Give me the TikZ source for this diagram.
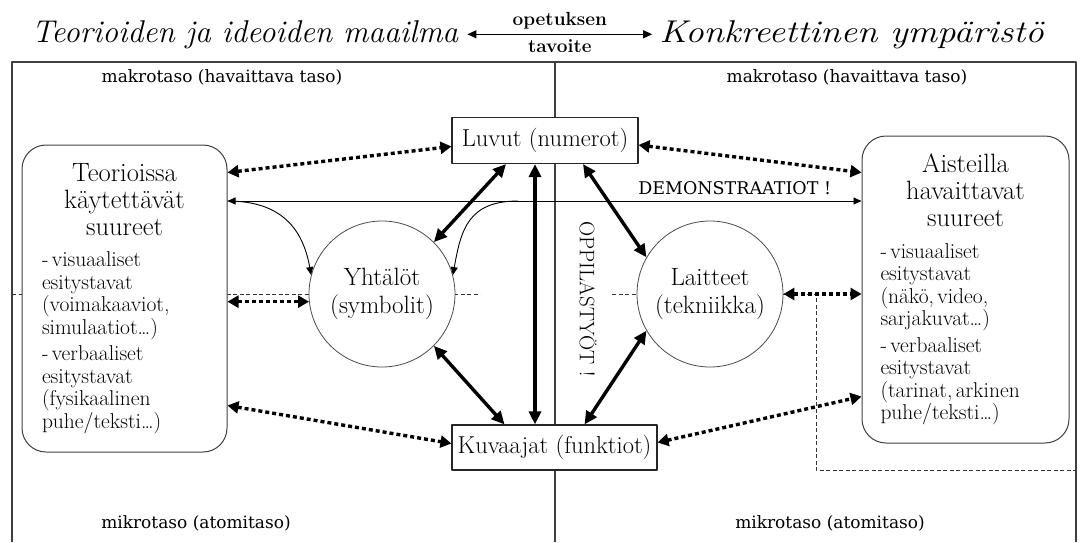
\documentclass[tikz,border=0pt]{standalone}
\usepackage{fontspec}
\usetikzlibrary{arrows.meta}
\newfontfamily\tasofont{DejaVu Serif}
\newcommand{\otsikkofont}{\fontsize{31.5}{34}\selectfont\itshape}
\newcommand{\tavoitefont}{\fontsize{19}{20}\selectfont\bfseries}
\newcommand{\solmufont}{\fontsize{24.5}{28}\selectfont}
\newcommand{\ympyrafont}{\fontsize{25}{28}\selectfont}
\newcommand{\laatikkootsikko}{\fontsize{26.5}{27}\selectfont}
\newcommand{\listafont}{\fontsize{21.5}{22.5}\selectfont}
\newcommand{\demofont}{\tasofont\fontsize{17.5}{20}\selectfont}
\newcommand{\oppilasfont}{\fontsize{21}{24}\selectfont}
\begin{document}
\begin{tikzpicture}[x=1pt,y=-1pt,line join=round,>={Triangle[length=8pt,width=7pt]}]
	\tikzset{kehys/.style={draw=black!75,line width=1.1pt},
		katko/.style={draw=black!80,line width=0.8pt,dash pattern=on 4pt off 2.5pt},
		laatikko/.style={draw=black!75,line width=1pt,fill=white,rounded corners=24pt,minimum height=307pt,align=left,inner ysep=0pt},
		suorakaide/.style={draw=black!85,line width=1.1pt,fill=white,inner sep=0pt,minimum height=46pt,font=\solmufont},
		ympyra/.style={circle,draw=black!70,line width=0.8pt,fill=white,minimum size=146pt,inner sep=0pt,align=center,font=\ympyrafont},
		paksu/.style={line width=3.4pt,>={Triangle[length=13pt,width=12pt]},<->},
		pisteet/.style={line width=3.4pt,dash pattern=on 4pt off 3pt,>={Triangle[length=11pt,width=12pt]},<->},
		ohut/.style={line width=0.9pt,->},
		taso/.style={font=\tasofont\fontsize{17}{20}\selectfont}}
	\useasboundingbox (0,0) rectangle (1080,542);
	\draw[kehys] (12,542) -- (12,62) -- (1076,62) -- (1076,542);
	\draw[kehys] (555,62) -- (555,542);
	\draw[katko] (12,294) -- (480,294);
	\draw[katko] (612,294) -- (816,294) -- (816,470) -- (1076,470);
	\node[font=\otsikkofont,anchor=base,inner xsep=9pt] (teoria) at (245,42) {Teorioiden ja ideoiden maailma};
	\node[font=\otsikkofont,anchor=base,inner xsep=7pt] (konkreetti) at (851.5,42) {\scalebox{1.17}[1]{Konkreettinen ympäristö}};
	\draw[line width=1.2pt,>={Triangle[length=9pt,width=8pt]},<->] (teoria.east) -- (konkreetti.west)
		node[midway,above=1pt,font=\tavoitefont] (opetus) {opetuksen}
		node[midway,below=1pt,font=\tavoitefont] (tavoite) {tavoite};
	\node[taso] (makroV) at (222,77) {makrotaso (havaittava taso)};
	\node[taso] (makroO) at (847,77) {makrotaso (havaittava taso)};
	\node[taso] (mikroV) at (196,523) {mikrotaso (atomitaso)};
	\node[taso] (mikroO) at (830,523) {mikrotaso (atomitaso)};
	\node[suorakaide,minimum width=186pt] (luvut) at (545,140.5) {Luvut (numerot)};
	\node[suorakaide,minimum width=205pt,minimum height=45pt] (kuvaajat) at (554.5,447.5) {Kuvaajat (funktiot)};
	\node[ympyra] (yhtalot) at (382,294) {Yhtälöt\\(symbolit)};
	\node[ympyra] (laitteet) at (710,294) {Laitteet\\(tekniikka)};
	\node[laatikko,text width=165pt,inner xsep=20pt] (teoriat) at (124.5,298.5) {{\centering\laatikkootsikko Teorioissa\\käytettävät\\suureet\par}\vspace{9pt}\listafont
		- visuaaliset\\esitystavat\\(voimakaaviot,\\simulaatiot…)\par\vspace{4pt}
		- verbaaliset\\esitystavat\\(fysikaalinen\\puhe/teksti…)};
	\node[laatikko,text width=170pt,inner xsep=18.5pt] (aistit) at (965.5,289.5) {{\centering\laatikkootsikko Aisteilla\\havaittavat\\suureet\par}\vspace{9pt}\listafont
		- visuaaliset\\esitystavat\\(näkö, video,\\sarjakuvat…)\par\vspace{4pt}
		- verbaaliset\\esitystavat\\(tarinat, arkinen\\puhe/teksti…)};
	\node[rotate=-90,font=\oppilasfont] (oppilas) at (588,299) {OPPILASTYÖT !};
	\coordinate (demo) at ([yshift=97.5pt]teoriat.east);
	\coordinate (haara) at (518,201);
	\draw[ohut,<->] (demo) -- (demo -| aistit.west) node[pos=0.8,above=2pt,font=\demofont] (demoteksti) {DEMONSTRAATIOT !};
	\draw[ohut] (demo) .. controls +(55,0) and +(-8,-45) .. (yhtalot.165);
	\draw[ohut] (haara) .. controls +(-50,0) and +(8,-45) .. (yhtalot.15);
	\draw[paksu] ([xshift=-39pt]luvut.south) -- (yhtalot.45);
	\draw[paksu] ([xshift=-10pt]luvut.south) -- ([xshift=-19.5pt]kuvaajat.north);
	\draw[paksu] ([xshift=38pt]luvut.south) -- (laitteet.150);
	\draw[paksu] (yhtalot.-45) -- ([xshift=-50pt]kuvaajat.north);
	\draw[paksu] (laitteet.210) -- ([xshift=30pt]kuvaajat.north);
	\draw[pisteet] ([yshift=126pt]teoriat.east) -- ([yshift=-6pt]luvut.west);
	\draw[pisteet] ([yshift=-4.5pt]luvut.east) -- ([yshift=117pt]aistit.west);
	\draw[pisteet] (teoriat.east |- yhtalot.186) -- (yhtalot.186);
	\draw[pisteet] (laitteet.east) -- (aistit.west |- laitteet.east);
	\draw[pisteet] ([yshift=-107pt]teoriat.east) -- ([yshift=4pt]kuvaajat.west);
	\draw[pisteet] ([yshift=5pt]kuvaajat.east) -- ([yshift=-107pt]aistit.west);
\end{tikzpicture}
\end{document}
